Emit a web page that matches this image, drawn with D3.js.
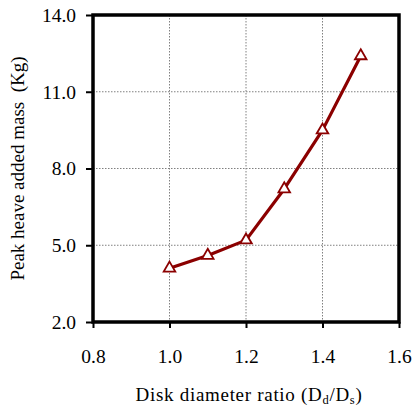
<!DOCTYPE html>
<html>
<head>
<meta charset="utf-8">
<script src="https://cdn.jsdelivr.net/npm/d3@7"></script>
<style>
  html, body { margin: 0; padding: 0; background: #fff; }
  svg { display: block; }
</style>
</head>
<body>
<svg id="chart" width="413" height="409"></svg>
<script>
// Disk diameter ratio (Dd/Ds) and peak heave added mass (Kg)
const ratios = [1.0, 1.1, 1.2, 1.3, 1.4, 1.5];
const addedMass = [4.1, 4.6, 5.2, 7.2, 9.5, 12.4];
const xTicks = [0.8, 1.0, 1.2, 1.4, 1.6];
const yTicks = [2.0, 5.0, 8.0, 11.0, 14.0];

const FONT = "'Liberation Serif', 'Times New Roman', Times, serif";

const svg = d3.select("#chart");
const m = { left: 93, right: 399, top: 15, bottom: 322 };

const x = d3.scaleLinear().domain([0.8, 1.6]).range([m.left, m.right]);
const y = d3.scaleLinear().domain([2, 14]).range([m.bottom, m.top]);

// dotted grid
const grid = svg.append("g");
grid.selectAll("line.gx").data(xTicks.slice(1, -1)).join("line")
  .attr("x1", d => x(d)).attr("x2", d => x(d))
  .attr("y1", m.top).attr("y2", m.bottom)
  .attr("stroke", "#808080").attr("stroke-width", 1).attr("stroke-dasharray", "1.5,1.5");
grid.selectAll("line.gy").data(yTicks.slice(1, -1)).join("line")
  .attr("y1", d => y(d)).attr("y2", d => y(d))
  .attr("x1", m.left).attr("x2", m.right)
  .attr("stroke", "#808080").attr("stroke-width", 1).attr("stroke-dasharray", "1.5,1.5");

// axes
const xAxis = d3.axisBottom(x).tickValues(xTicks).tickFormat(d3.format(".1f"))
  .tickSize(6).tickPadding(21);
const yAxis = d3.axisLeft(y).tickValues(yTicks).tickFormat(d3.format(".1f"))
  .tickSize(7).tickPadding(10);

const gx = svg.append("g").attr("transform", `translate(0,${m.bottom})`).call(xAxis);
const gy = svg.append("g").attr("transform", `translate(${m.left},0)`).call(yAxis);
[gx, gy].forEach(g => {
  g.attr("font-family", null);
  g.select(".domain").remove();
  g.selectAll(".tick line").attr("stroke", "#000").attr("stroke-width", 2);
  g.selectAll(".tick text").attr("font-size", 19.5).style("font-family", FONT).attr("fill", "#000");
});

// frame
svg.append("rect")
  .attr("x", m.left).attr("y", m.top)
  .attr("width", m.right - m.left).attr("height", m.bottom - m.top)
  .attr("fill", "none").attr("stroke", "#000").attr("stroke-width", 3.5);

// series line
const line = d3.line().x((d, i) => x(ratios[i])).y(d => y(d));
svg.append("path").datum(addedMass)
  .attr("d", line)
  .attr("fill", "none").attr("stroke", "#8B0000").attr("stroke-width", 3.2)
  .attr("stroke-linejoin", "round");

// triangle markers
const tri = d3.symbol().type(d3.symbolTriangle).size(58);
svg.selectAll("path.mk").data(addedMass).join("path")
  .attr("class", "mk")
  .attr("d", tri)
  .attr("transform", (d, i) => `translate(${x(ratios[i])},${y(d)})`)
  .attr("fill", "#fff").attr("stroke", "#8B0000").attr("stroke-width", 1.8);

// axis titles
const xt = svg.append("text")
  .attr("x", (m.left + m.right) / 2 + 3).attr("y", 401)
  .attr("text-anchor", "middle").attr("font-size", 19)
  .style("font-family", FONT)
  .attr("letter-spacing", 0.7);
xt.append("tspan").text("Disk diameter ratio (D");
xt.append("tspan").attr("font-size", 12.5).attr("dy", 3).text("d");
xt.append("tspan").attr("dy", -3).text("/D");
xt.append("tspan").attr("font-size", 12.5).attr("dy", 3).text("s");
xt.append("tspan").attr("dy", -3).text(")");

svg.append("text")
  .attr("transform", `translate(23.5,${(m.top + m.bottom) / 2}) rotate(-90)`)
  .attr("text-anchor", "middle").attr("font-size", 19)
  .style("font-family", FONT)
  .style("white-space", "pre")
  .text("Peak heave added mass  (Kg)");
</script>
</body>
</html>
